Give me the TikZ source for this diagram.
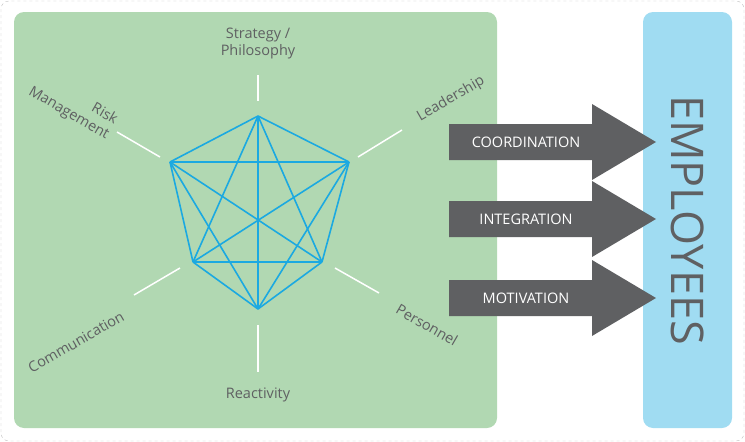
\documentclass[tikz,border=0pt]{standalone}
\usepackage{fontspec}
\setmainfont{Open Sans}
\begin{document}
\definecolor{gbox}{HTML}{B1D8B2}
\definecolor{bbox}{HTML}{A0DCF2}
\definecolor{pline}{HTML}{1BA9E1}
\definecolor{txt}{HTML}{5F6062}
\definecolor{arr}{HTML}{5F6062}
\begin{tikzpicture}[x=1pt,y=-1pt,
  lbl/.style={text=txt,font=\fontsize{14.5}{17}\selectfont,align=center,inner sep=1pt},
  tick/.style={white,line width=1.5pt},
  edge/.style={pline,line width=1.6pt},
  arrtxt/.style={text=white,font=\fontsize{14.5}{16}\selectfont}]
\useasboundingbox (0,0) rectangle (745,442);
\draw[gray!50,dashed,rounded corners=8] (1,1) rectangle (744,441);
\fill[gbox,rounded corners=10] (14,12) rectangle (497,428);
\fill[bbox,rounded corners=10] (643,12) rectangle (732,428);
\coordinate (v1) at (258,116);
\coordinate (v2) at (349,162);
\coordinate (v3) at (322,262);
\coordinate (v4) at (258,309);
\coordinate (v5) at (193,262);
\coordinate (v6) at (170,162);
\foreach \a in {1,...,6}{\foreach \b in {1,...,6}{\ifnum\a<\b \draw[edge,line join=round] (v\a)--(v\b);\fi}}
\coordinate (t1a) at (258,75); \coordinate (t1b) at (258,101);
\coordinate (t2a) at (358,157); \coordinate (t2b) at (402,130);
\coordinate (t3a) at (335,268); \coordinate (t3b) at (379,293);
\coordinate (t4a) at (258,325); \coordinate (t4b) at (258,372);
\coordinate (t5a) at (180,268); \coordinate (t5b) at (134,295);
\coordinate (t6a) at (160,157); \coordinate (t6b) at (117,132);
\foreach \i in {1,...,6}{\draw[tick] (t\i a)--(t\i b);}
\node[lbl] (l1) at (258,43) {Strategy /\\Philosophy};
\node[lbl,rotate=30] (l2) at (451,99) {Leadership};
\node[lbl,rotate=-30] (l3) at (427,325) {Personnel};
\node[lbl] (l4) at (258,395) {Reactivity};
\node[lbl,rotate=30] (l5) at (76,342) {Communication};
\node[lbl,rotate=-30,align=right] (l6) at (73,106) {Risk\\Management};
\foreach \y/\t [count=\i] in {142/COORDINATION,219/INTEGRATION,298/MOTIVATION}{
  \fill[arr] (449,\y-18) -- (592,\y-18) -- (592,\y-38) -- (656,\y) -- (592,\y+38) -- (592,\y+18) -- (449,\y+18) -- cycle;
  \node[arrtxt] (a\i) at (526,\y) {\t};
}
\node[text=txt,font=\fontsize{45}{45}\selectfont,rotate=-90] (emp) at (688,220) {EMPLOYEES};
\end{tikzpicture}
\end{document}
